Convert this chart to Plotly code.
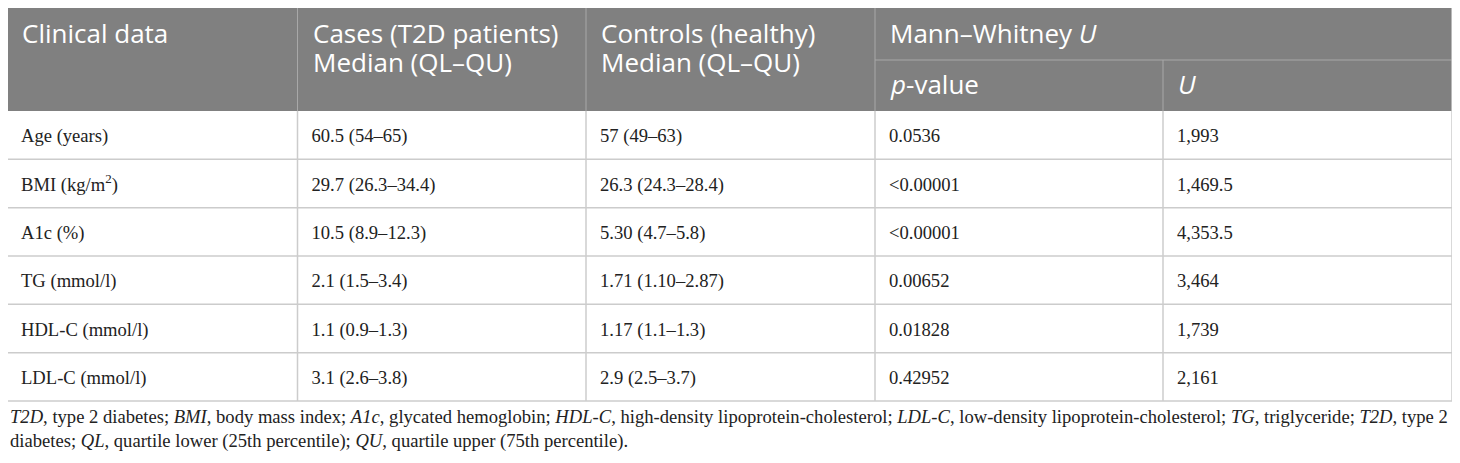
import plotly.graph_objects as go

# table content
clinical = ["Age (years)", "BMI (kg/m<sup>2</sup>)", "A1c (%)", "TG (mmol/l)",
            "HDL-C (mmol/l)", "LDL-C (mmol/l)"]
cases = ["60.5 (54–65)", "29.7 (26.3–34.4)", "10.5 (8.9–12.3)", "2.1 (1.5–3.4)",
         "1.1 (0.9–1.3)", "3.1 (2.6–3.8)"]
controls = ["57 (49–63)", "26.3 (24.3–28.4)", "5.30 (4.7–5.8)", "1.71 (1.10–2.87)",
            "1.17 (1.1–1.3)", "2.9 (2.5–3.7)"]
p_values = ["0.0536", "&lt;0.00001", "&lt;0.00001", "0.00652", "0.01828", "0.42952"]
u_values = ["1,993", "1,469.5", "4,353.5", "3,464", "1,739", "2,161"]

header_top = ["Clinical data", "Cases (T2D patients)", "Controls (healthy)", "Mann–Whitney <i>U</i>"]
header_second = ["", "Median (QL–QU)", "Median (QL–QU)"]
sub_header = ["<i>p</i>-value", "<i>U</i>"]

footnote = ("<i>T2D</i>, type 2 diabetes; <i>BMI</i>, body mass index; <i>A1c</i>, glycated hemoglobin; "
            "<i>HDL-C</i>, high-density lipoprotein-cholesterol; <i>LDL-C</i>, low-density "
            "lipoprotein-cholesterol; <i>TG</i>, triglyceride; <i>T2D</i>, type 2<br>"
            "diabetes; <i>QL</i>, quartile lower (25th percentile); <i>QU</i>, quartile upper (75th percentile).")

columns = [clinical, cases, controls, p_values, u_values]

# geometry in page pixels (the page body has an 8px margin)
W, H = 1460, 463
OFF = 8
col_edges = [7, 297.5, 586, 875, 1163, 1452]
head_top, head_mid, head_bot = 7.5, 60, 111
row_h = 48.33
pad = 15
n_rows = len(clinical)
row_edges = [head_bot + i * row_h for i in range(n_rows + 1)]

HEAD_FILL = "#808080"
HEAD_LINE = "#a8a8a8"
GRID = "#cccccc"
TEXT = "#222222"

fig = go.Figure()

# body text, one trace per column
for j, col in enumerate(columns):
    fig.add_trace(go.Scatter(
        x=[col_edges[j] + pad - 1] * n_rows,
        y=[(row_edges[i] + row_edges[i + 1]) / 2 + 2.5 for i in range(n_rows)],
        mode="text", text=col, textposition="middle right",
        textfont=dict(family="Liberation Serif", size=18.6, color=TEXT),
        hoverinfo="skip", showlegend=False,
    ))

shapes = []
# header fill
shapes.append(dict(type="rect", x0=col_edges[0], x1=col_edges[-1], y0=head_top, y1=head_bot,
                   fillcolor=HEAD_FILL, line=dict(width=0), layer="below"))
# header lines
for x in col_edges[1:4]:
    shapes.append(dict(type="line", x0=x, x1=x, y0=head_top, y1=head_bot,
                       line=dict(color=HEAD_LINE, width=1)))
shapes.append(dict(type="line", x0=col_edges[4], x1=col_edges[4], y0=head_mid, y1=head_bot,
                   line=dict(color=HEAD_LINE, width=1)))
shapes.append(dict(type="line", x0=col_edges[3], x1=col_edges[5], y0=head_mid, y1=head_mid,
                   line=dict(color=HEAD_LINE, width=1)))
shapes.append(dict(type="line", x0=col_edges[0], x1=col_edges[5], y0=head_top, y1=head_top,
                   line=dict(color=GRID, width=1)))
# body grid
for y in row_edges[1:]:
    shapes.append(dict(type="line", x0=col_edges[0], x1=col_edges[-1], y0=y, y1=y,
                       line=dict(color=GRID, width=1.5)))
for x in col_edges:
    shapes.append(dict(type="line", x0=x, x1=x, y0=head_bot, y1=row_edges[-1],
                       line=dict(color=GRID, width=1.5)))
for x in (col_edges[0], col_edges[-1]):
    shapes.append(dict(type="line", x0=x, x1=x, y0=head_top, y1=head_bot,
                       line=dict(color=GRID, width=1.5)))

annotations = []
head_font = dict(family="Open Sans", size=26, color="white")
for j, t in enumerate(header_top):
    annotations.append(dict(x=col_edges[j] + pad - 2, y=33, text=t, showarrow=False,
                            xanchor="left", yanchor="middle", font=head_font))
for j, t in enumerate(header_second):
    if t:
        annotations.append(dict(x=col_edges[j] + pad - 2, y=62, text=t, showarrow=False,
                                xanchor="left", yanchor="middle", font=head_font))
for j, t in enumerate(sub_header):
    annotations.append(dict(x=col_edges[3 + j] + pad - 2, y=84, text=t, showarrow=False,
                            xanchor="left", yanchor="middle", font=head_font))
annotations.append(dict(x=0, xref="paper", y=429, text=footnote, showarrow=False,
                        xanchor="left", yanchor="middle", align="left",
                        font=dict(family="Liberation Serif", size=18.6, color=TEXT)))

fig.update_layout(
    width=W - OFF, height=H - OFF,
    margin=dict(l=0, r=0, t=0, b=0),
    paper_bgcolor="white", plot_bgcolor="white",
    xaxis=dict(range=[OFF, W], visible=False, fixedrange=True),
    yaxis=dict(range=[H, OFF], visible=False, fixedrange=True),
    shapes=shapes, annotations=annotations,
)

fig.write_html("out.html")
